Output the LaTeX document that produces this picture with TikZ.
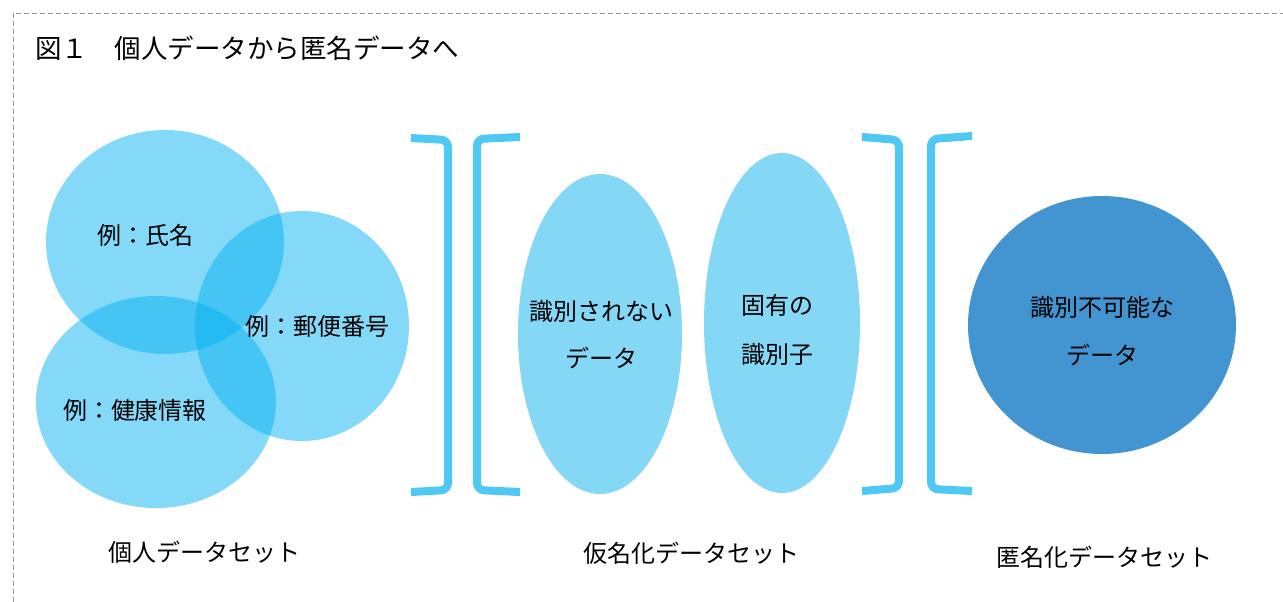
\documentclass[tikz,border=0pt]{standalone}
\usepackage{fontspec}
\setmainfont{Noto Sans CJK JP}
\definecolor{venn}{HTML}{00B0F0}
\definecolor{lightb}{HTML}{84D8F6}
\definecolor{darkb}{HTML}{4395D1}
\definecolor{brk}{HTML}{4FC8F3}
\definecolor{framecol}{HTML}{9A9A9A}
\tikzset{
  vennfill/.style={fill=venn,fill opacity=0.48,draw=none},
  lightfill/.style={fill=lightb,draw=none},
  darkfill/.style={fill=darkb,draw=none},
  bracket/.style={draw=brk,line width=8pt,rounded corners=7pt},
  lbl/.style={font=\fontsize{24}{28}\selectfont,inner sep=0pt,text=black},
  captiontext/.style={font=\fontsize{24}{28}\selectfont,inner sep=0pt,text=black},
  ttl/.style={font=\fontsize{26.5}{30}\selectfont,inner sep=0pt,anchor=west,text=black}
}
\begin{document}
\begin{tikzpicture}[x=1pt,y=-1pt]
\useasboundingbox (0,0) rectangle (1283,602);
% frame
\draw[framecol,dashed,line width=0.8pt,dash pattern=on 5pt off 3pt] (13,602) -- (13,13) -- (1283,13);
% title
\node[ttl] (title) at (35,48) {図１　個人データから匿名データへ};
% Venn circles
\path[vennfill] (165,242) ellipse [x radius=119,y radius=112];
\path[vennfill] (302,326) ellipse [x radius=107,y radius=115];
\path[vennfill] (156,402) ellipse [x radius=120,y radius=106];
\node[lbl] (name) at (145,235) {例：氏名};
\node[lbl] (zip) at (317,326) {例：郵便番号};
\node[lbl] (health) at (135,410) {例：健康情報};
% pseudonymised ellipses
\path[lightfill] (600,334) ellipse [x radius=82,y radius=160];
\path[lightfill] (782,323) ellipse [x radius=78,y radius=170];
\node[lbl] (n1a) at (601,311) {識別されない};
\node[lbl] (n1b) at (601,358) {データ};
\node[lbl] (n2a) at (777,305) {固有の};
\node[lbl] (n2b) at (777,354) {識別子};
% anonymised circle
\path[darkfill] (1102,325) ellipse [x radius=134,y radius=129];
\node[lbl] (n3a) at (1102,307) {識別不可能な};
\node[lbl] (n3b) at (1102,355) {データ};
% brackets
\draw[bracket] (411,138) -- (448,140) -- (448,490) -- (411,492);
\draw[bracket] (520,137) -- (477,139) -- (477,490) -- (520,492);
\draw[bracket] (862,137) -- (899,140) -- (899,488) -- (862,491);
\draw[bracket] (972,136) -- (931,139) -- (931,489) -- (972,491);
% captions
\node[captiontext] (c1) at (204,552) {個人データセット};
\node[captiontext] (c2) at (691,553) {仮名化データセット};
\node[captiontext] (c3) at (1104,557) {匿名化データセット};
\end{tikzpicture}
\end{document}
